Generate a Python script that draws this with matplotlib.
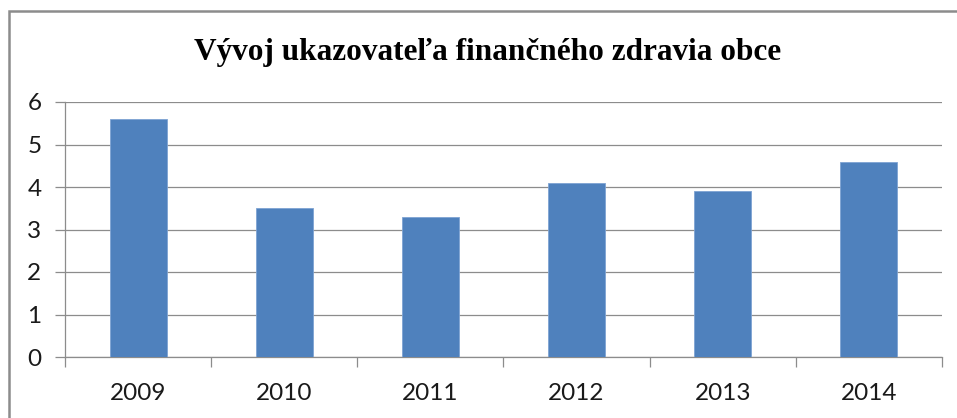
import matplotlib
matplotlib.use('Agg')
import matplotlib.pyplot as plt
import matplotlib.patches as patches
import numpy as np

# data
years = ['2009', '2010', '2011', '2012', '2013', '2014']
values = [5.6, 3.5, 3.3, 4.1, 3.9, 4.6]
title = 'Vývoj ukazovateľa finančného zdravia obce'

W, H = 957, 418
fig = plt.figure(figsize=(W/100, H/100), dpi=100)

# outer chart frame (cut at right and bottom like in the screenshot)
frame = patches.Rectangle((9/W, -0.1), 1.2, 1.1 - 11/H, transform=fig.transFigure,
                          fill=False, edgecolor='#8c8c8c', linewidth=1.8, zorder=0)
fig.patches.append(frame)

ax = fig.add_axes([65/W, (H-357)/H, (942-65)/W, (357-102)/H])
x = np.arange(len(years))
ax.bar(x, values, width=0.39, color='#4F81BD', edgecolor='#7EA3D3', linewidth=0.6, zorder=3)

ax.set_xlim(-0.5, len(years)-0.5)
ax.set_ylim(0, 6)
ax.set_yticks(range(0, 7))
ax.set_xticks(np.arange(-0.5, len(years), 1.0))
ax.set_xticklabels([])
ax.set_xticks(x, minor=True)
ax.set_xticklabels(years, minor=True)

ax.yaxis.grid(True, color='#8c8c8c', linewidth=0.9, zorder=0)
ax.set_axisbelow(True)
for s in ['top', 'right']:
    ax.spines[s].set_visible(False)
for s in ['left', 'bottom']:
    ax.spines[s].set_color('#8c8c8c')
    ax.spines[s].set_linewidth(0.9)

ax.tick_params(axis='y', which='major', length=7, width=0.9, color='#8c8c8c', pad=10, labelsize=17.5)
ax.tick_params(axis='x', which='major', length=7, width=0.9, color='#8c8c8c')
ax.tick_params(axis='x', which='minor', length=0, pad=19, labelsize=17.5)
for t in ax.get_yticklabels() + ax.get_xticklabels(minor=True):
    t.set_fontfamily(['Lato', 'DejaVu Sans'])
    t.set_color('#1a1a1a')

fig.text(488/W, 1 - 60/H, title, ha='center', va='baseline',
         family=['Liberation Serif', 'DejaVu Serif'], fontweight='bold', fontsize=22.5)

fig.savefig('out.png', dpi=100)
